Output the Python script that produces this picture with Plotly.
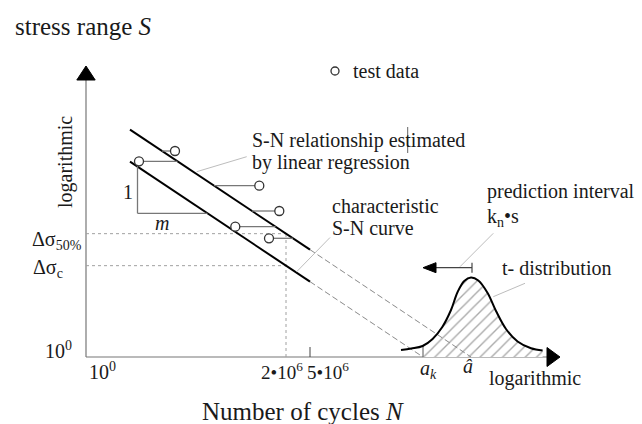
import numpy as np
import plotly.graph_objects as go

# Schematic S-N diagram; both axes are in logarithmic units (1 unit = one grid step)

# test results (log N, log S)
test_logN = [8.9, 5.3, 17.33, 19.33, 14.93, 18.3]
test_logS = [20.6, 19.57, 17.13, 14.6, 13.03, 11.87]

# regression line   log N = a_hat - m * log S
a_hat = 38.5
m = 1.5
kn_s = 4.8             # prediction interval k_n * s
a_k = a_hat - kn_s     # intercept of the characteristic curve

logN_start = 4.4       # left end of both S-N lines
logN_ref = 20.0        # 2e6 cycles
logN_cut = 22.4        # 5e6 cycles, solid lines stop here
tri_logS = 14.37       # foot of the slope triangle

# t-distribution around a_hat: offset in log N and curve height
t_offset = [-7.0, -5.97, -4.84, -3.84, -2.87, -2.0, -1.34, -0.67, 0.0,
            0.73, 1.66, 2.5, 3.5, 4.66, 6.0, 7.16]
t_height = [0.7, 0.85, 1.1, 1.8, 3.0, 4.7, 6.5, 7.6, 7.95,
            7.65, 6.4, 4.6, 2.8, 1.55, 0.87, 0.65]

axis_x_end = 46.1
axis_y_end = 27.7
arrow_logS = 8.93      # height of the prediction-interval arrow

FONT = "Liberation Serif"
INK = "#1a1a1a"


def logS_of(logN, a):
    return (a - logN) / m


def logN_of(logS, a):
    return a - m * logS


def segs(pairs):
    """Join (x0, y0, x1, y1) segments into one trace with gaps."""
    xs, ys = [], []
    for x0, y0, x1, y1 in pairs:
        xs += [x0, x1, None]
        ys += [y0, y1, None]
    return xs, ys


fig = go.Figure()


def add_lines(pairs, color, width, dash="solid"):
    xs, ys = segs(pairs)
    fig.add_trace(go.Scatter(x=xs, y=ys, mode="lines",
                             line=dict(color=color, width=width, dash=dash),
                             hoverinfo="skip"))


def add_triangle(xs, ys):
    fig.add_trace(go.Scatter(x=xs + [xs[0]], y=ys + [ys[0]], mode="lines",
                             fill="toself", fillcolor="black",
                             line=dict(color="black", width=1), hoverinfo="skip"))


# axes
add_lines([(0, 0, axis_x_end, 0), (0, 0, 0, axis_y_end)], "#777", 1.2)
add_triangle([-0.92, 0.92, 0], [axis_y_end, axis_y_end, axis_y_end + 1.4])
add_triangle([axis_x_end, axis_x_end, axis_x_end + 1.3], [-0.95, 0.95, 0])

# reference levels at 2e6 cycles
ds50 = logS_of(logN_ref, a_hat)
dsc = logS_of(logN_ref, a_k)
add_lines([(0, ds50, logN_ref, ds50), (0, dsc, logN_ref, dsc),
           (logN_ref, 0, logN_ref, ds50)], "#a0a0a0", 1, "dot")

# ticks at 5e6 and at a_hat
add_lines([(logN_cut, 0, logN_cut, 1.0), (a_hat, 0, a_hat, 1.2)], "#444", 1)

# hatched tail of the t-distribution beyond a_k
curve_x = [a_hat + o for o in t_offset]
h_ak = float(np.interp(a_k, curve_x, t_height))
hx = [a_k] + [x for x in curve_x if x > a_k]
hy = [h_ak] + [h for x, h in zip(curve_x, t_height) if x > a_k]
fig.add_trace(go.Scatter(x=hx, y=hy, mode="lines", fill="tozeroy",
                         line=dict(color="rgba(0,0,0,0)", width=0, shape="spline"),
                         fillcolor="white",
                         fillpattern=dict(shape="/", size=8, solidity=0.17,
                                          fgcolor="#555", bgcolor="white"),
                         hoverinfo="skip"))
add_lines([(a_k, 0, a_k, h_ak)], "#555", 1)

# dashed continuation of both S-N lines down to the axis
add_lines([(logN_cut, logS_of(logN_cut, a_hat), a_hat, 0),
           (logN_cut, logS_of(logN_cut, a_k), a_k, 0)], "#8a8a8a", 1, "6px,3px")

# t-distribution curve
fig.add_trace(go.Scatter(x=curve_x, y=t_height, mode="lines",
                         line=dict(color="black", width=2, shape="spline"),
                         hoverinfo="skip"))

# regression line and characteristic S-N curve
add_lines([(logN_start, logS_of(logN_start, a_hat), logN_cut, logS_of(logN_cut, a_hat)),
           (logN_start, logS_of(logN_start, a_k), logN_cut, logS_of(logN_cut, a_k))],
          "black", 2)

# horizontal residuals from the regression line to each test result
add_lines([(x, y, logN_of(y, a_hat), y) for x, y in zip(test_logN, test_logS)],
          "#777", 1.3)

# slope triangle 1 : m
x2, y2 = test_logN[1], test_logS[1]
add_lines([(x2 - 0.15, y2, x2 - 0.15, tri_logS),
           (x2 - 0.15, tri_logS, logN_of(tri_logS, a_k), tri_logS)], "#777", 1.3)

# test data markers
fig.add_trace(go.Scatter(x=test_logN, y=test_logS, mode="markers",
                         marker=dict(symbol="circle", size=9, color="white",
                                     line=dict(color="#333", width=1.3)),
                         hoverinfo="skip"))
fig.add_trace(go.Scatter(x=[24.9], y=[28.6], mode="markers",
                         marker=dict(symbol="circle", size=8, color="white",
                                     line=dict(color="#333", width=1.3)),
                         hoverinfo="skip"))

# prediction-interval arrow
add_lines([(a_k + 1.3, arrow_logS, a_hat + 0.1, arrow_logS),
           (a_hat + 0.1, arrow_logS - 0.5, a_hat + 0.1, arrow_logS + 0.5)], "#444", 1.2)
add_triangle([a_k, a_k + 1.3, a_k + 1.3],
             [arrow_logS, arrow_logS + 0.5, arrow_logS - 0.5])

# leader lines for the labels
add_lines([(11.07, 18.53, 16.07, 20.03),
           (21.07, 8.53, 24.4, 11.95),
           (37.4, 9.03, 40.73, 12.37),
           (40.73, 6.03, 43.9, 7.37)], "#bdbdbd", 1)
add_lines([(32.17, 20.4, 32.17, 23.0)], "#666", 1)


# text
def label(x, y, text, size=20, xanchor="left", angle=0):
    fig.add_annotation(x=x, y=y, xref="x", yref="y", text=text, showarrow=False,
                       xanchor=xanchor, yanchor="middle", textangle=angle,
                       font=dict(family=FONT, size=size, color=INK))


label(-7.3, 33.1, "stress range <i>S</i>", size=25)
label(26.5, 28.6, "test data")
label(16.4, 21.63, "S-N relationship estimated")
label(16.4, 19.43, "by linear regression")
label(24.4, 15.1, "characteristic")
label(24.4, 12.87, "S-N curve")
label(39.9, 16.53, "prediction interval")
label(39.9, 14.0, "k<sub>n</sub>•s")
label(41.4, 8.87, "t- distribution")
label(4.17, 16.5, "1", xanchor="center")
label(7.57, 13.43, "<i>m</i>", xanchor="center")
label(-5.6, 11.7, "Δσ<sub>50%</sub>")
label(-5.5, 8.9, "Δσ<sub>c</sub>")
label(-1.2, 0.75, "10<sup>0</sup>", xanchor="right")
label(0.1, -1.35, "10<sup>0</sup>")
label(19.55, -1.35, "2•10<sup>6</sup>", xanchor="center", size=19)
label(24.2, -1.35, "5•10<sup>6</sup>", xanchor="center", size=19)
label(34.2, -1.2, "<i>a<sub>k</sub></i>", xanchor="center")
label(38.2, -0.9, "<i>â</i>", xanchor="center")
label(44.9, -2.1, "logarithmic", xanchor="center")
label(21.7, -5.4, "Number of cycles <i>N</i>", size=25, xanchor="center")
label(-2.1, 19.5, "logarithmic", xanchor="center", angle=-90)

fig.update_layout(
    width=642, height=424,
    margin=dict(l=0, r=0, t=0, b=0),
    paper_bgcolor="white", plot_bgcolor="white",
    showlegend=False,
    xaxis=dict(visible=False, range=[-8.6, 55.6], fixedrange=True),
    yaxis=dict(visible=False, range=[-6.7, 35.7], fixedrange=True),
)

fig.write_html("out.html")
